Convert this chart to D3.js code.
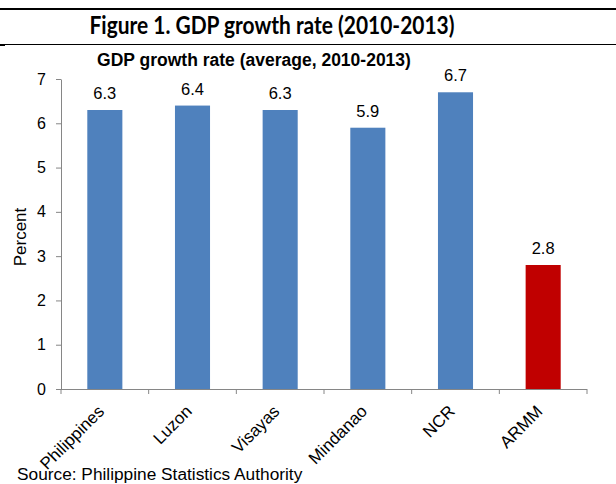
<!DOCTYPE html>
<html>
<head>
<meta charset="utf-8">
<script src="https://cdn.jsdelivr.net/npm/d3@7"></script>
<style>
  html, body { margin: 0; padding: 0; background: #fff; }
  svg { display: block; }
</style>
</head>
<body>
<div id="chart"></div>
<script>
// GDP growth rate by region, average 2010-2013
const regions = ["Philippines", "Luzon", "Visayas", "Mindanao", "NCR", "ARMM"];
const growth = [6.3, 6.4, 6.3, 5.9, 6.7, 2.8];
const barColors = ["#4F81BD", "#4F81BD", "#4F81BD", "#4F81BD", "#4F81BD", "#C00000"];
const yTicks = [0, 1, 2, 3, 4, 5, 6, 7];

const W = 616, H = 484;
const plot = { left: 61, right: 587, top: 79, bottom: 389 };
const axisGrey = "#868686";
const sans = "'Liberation Sans', Arial, sans-serif";

const svg = d3.select("#chart").append("svg")
  .attr("width", W).attr("height", H);

// Figure heading with rules above and below
svg.append("line").attr("x1", 0).attr("x2", W).attr("y1", 9).attr("y2", 9)
  .attr("stroke", "#000").attr("stroke-width", 2);
svg.append("line").attr("x1", 0).attr("x2", W).attr("y1", 44.5).attr("y2", 44.5)
  .attr("stroke", "#000").attr("stroke-width", 1);
svg.append("line").attr("x1", 0).attr("x2", 5).attr("y1", 45.5).attr("y2", 45.5)
  .attr("stroke", "#000").attr("stroke-width", 1);
svg.append("text")
  .attr("x", 272).attr("y", 34)
  .attr("text-anchor", "middle")
  .attr("textLength", 365)
  .attr("lengthAdjust", "spacingAndGlyphs")
  .style("font-family", "Lato, 'Open Sans', sans-serif")
  .style("font-weight", "bold")
  .style("font-size", "24px")
  .text("Figure 1. GDP growth rate (2010-2013)");

// Chart title
svg.append("text")
  .attr("x", 254).attr("y", 66)
  .attr("text-anchor", "middle")
  .style("font-family", sans)
  .style("font-weight", "bold")
  .style("font-size", "17.5px")
  .text("GDP growth rate (average, 2010-2013)");

const x = d3.scaleBand().domain(regions)
  .range([plot.left, plot.right]).paddingInner(0.6).paddingOuter(0.3);
const y = d3.scaleLinear().domain([0, 7]).range([plot.bottom, plot.top]);

// Bars
svg.append("g").selectAll("rect").data(regions).join("rect")
  .attr("x", d => x(d))
  .attr("width", x.bandwidth())
  .attr("y", (d, i) => y(growth[i]))
  .attr("height", (d, i) => y(0) - y(growth[i]))
  .attr("fill", (d, i) => barColors[i]);

// Value labels
svg.append("g").selectAll("text").data(regions).join("text")
  .attr("x", d => x(d) + x.bandwidth() / 2)
  .attr("y", (d, i) => y(growth[i]) - 11)
  .attr("text-anchor", "middle")
  .style("font-family", sans)
  .style("font-size", "16.5px")
  .attr("fill", "#000")
  .text((d, i) => growth[i].toFixed(1));

// Y axis
const yAxis = svg.append("g")
  .attr("transform", `translate(${plot.left},0)`)
  .call(d3.axisLeft(y).tickValues(yTicks).tickFormat(d3.format("d"))
    .tickSize(5).tickSizeOuter(0).tickPadding(10));
yAxis.select(".domain").attr("stroke", axisGrey);
yAxis.selectAll(".tick line").attr("stroke", axisGrey);
yAxis.selectAll(".tick text")
  .style("font-family", sans).style("font-size", "16px").attr("fill", "#000");

// X axis: baseline with ticks at category boundaries
const step = x.step();
const bounds = d3.range(regions.length + 1).map(i => plot.left + i * step);
const xAxis = svg.append("g");
xAxis.append("line")
  .attr("x1", plot.left).attr("x2", plot.right)
  .attr("y1", plot.bottom + 0.5).attr("y2", plot.bottom + 0.5)
  .attr("stroke", axisGrey);
xAxis.selectAll("line.tk").data(bounds).join("line").attr("class", "tk")
  .attr("x1", d => d).attr("x2", d => d)
  .attr("y1", plot.bottom).attr("y2", plot.bottom + 5)
  .attr("stroke", axisGrey);
xAxis.selectAll("text").data(regions).join("text")
  .attr("transform", d => `translate(${x(d) + x.bandwidth() / 2 - 8},${plot.bottom + 15}) rotate(-45)`)
  .attr("text-anchor", "end")
  .attr("dy", "0.7em")
  .style("font-family", sans)
  .style("font-size", "17px")
  .attr("fill", "#000")
  .text(d => d);

// Y axis title
svg.append("text")
  .attr("transform", "translate(26,237) rotate(-90)")
  .attr("text-anchor", "middle")
  .style("font-family", sans)
  .style("font-size", "17px")
  .text("Percent");

// Source note
svg.append("text")
  .attr("x", 17).attr("y", 480)
  .style("font-family", sans)
  .style("font-size", "17.3px")
  .text("Source: Philippine Statistics Authority");
</script>
</body>
</html>
